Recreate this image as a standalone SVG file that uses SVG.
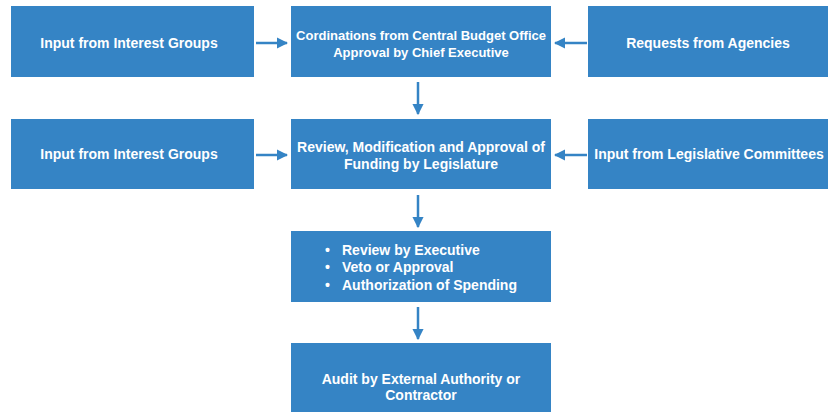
<svg xmlns="http://www.w3.org/2000/svg" width="828" height="412" viewBox="0 0 828 412">
<style>
.box{fill:#3584c5}
.t{fill:#fff;font-family:"Liberation Sans",Arial,sans-serif;font-weight:bold;font-size:14px;text-anchor:middle}
.s{font-size:13px}
.tl{text-anchor:start}
.c{stroke:#3584c5;stroke-width:2.5;fill:none}
</style>
<defs>
<marker id="ah" viewBox="0 0 10 10" refX="9" refY="5" markerWidth="4.5" markerHeight="4.5" markerUnits="strokeWidth" orient="auto">
<path d="M0,0 L10,5 L0,10 z" fill="#3584c5"/>
</marker>
</defs>
<rect width="828" height="412" fill="#fff"/>
<g id="n1"><rect class="box" x="11" y="6" width="243" height="71"/><text class="t" x="129" y="48">Input from Interest Groups</text></g>
<g id="n2"><rect class="box" x="291" y="6" width="260" height="71"/><text class="t s" x="421" y="40">Cordinations from Central Budget Office</text><text class="t s" x="421" y="57">Approval by Chief Executive</text></g>
<g id="n3"><rect class="box" x="588" y="6" width="240" height="71"/><text class="t" x="708" y="48">Requests from Agencies</text></g>
<g id="n4"><rect class="box" x="11" y="119" width="243" height="70"/><text class="t" x="129" y="159">Input from Interest Groups</text></g>
<g id="n5"><rect class="box" x="291" y="119" width="260" height="70"/><text class="t" x="421" y="152">Review, Modification and Approval of</text><text class="t" x="421" y="168.5">Funding by Legislature</text></g>
<g id="n6"><rect class="box" x="588" y="119" width="240" height="70"/><text class="t" x="709" y="159">Input from Legislative Committees</text></g>
<g id="n7"><rect class="box" x="291" y="231" width="260" height="71"/>
<text class="t tl" x="325" y="255">•</text><text class="t tl" x="342" y="255">Review by Executive</text>
<text class="t tl" x="325" y="272">•</text><text class="t tl" x="342" y="272">Veto or Approval</text>
<text class="t tl" x="325" y="289.5">•</text><text class="t tl" x="342" y="289.5">Authorization of Spending</text></g>
<g id="n8"><rect class="box" x="291" y="343" width="260" height="69"/><text class="t" x="421" y="384">Audit by External Authority or</text><text class="t" x="421" y="400">Contractor</text></g>
<g id="connectors">
<line class="c" x1="256" y1="43" x2="287" y2="43" marker-end="url(#ah)"/>
<line class="c" x1="587" y1="43" x2="555" y2="43" marker-end="url(#ah)"/>
<line class="c" x1="256" y1="155" x2="287" y2="155" marker-end="url(#ah)"/>
<line class="c" x1="587" y1="155" x2="555" y2="155" marker-end="url(#ah)"/>
<line class="c" x1="418" y1="82" x2="418" y2="114" marker-end="url(#ah)"/>
<line class="c" x1="418" y1="195" x2="418" y2="227" marker-end="url(#ah)"/>
<line class="c" x1="418" y1="307" x2="418" y2="339" marker-end="url(#ah)"/>
</g>
</svg>
